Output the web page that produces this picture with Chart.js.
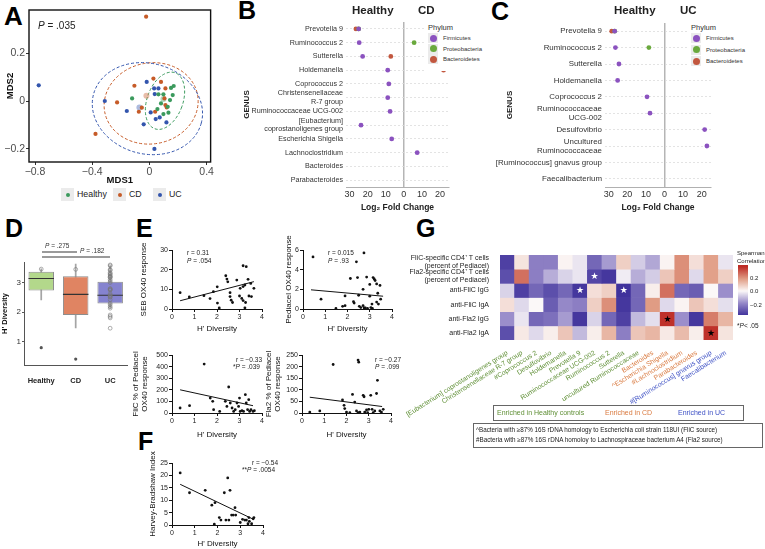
<!DOCTYPE html>
<html>
<head>
<meta charset="utf-8">
<script src="https://cdn.jsdelivr.net/npm/chart.js@4.4.1/dist/chart.umd.min.js"></script>
<style>
  body { margin: 0; background: #fff; font-family: "Liberation Sans", Arial, sans-serif; }
  #wrap { position: relative; width: 765px; height: 549px; overflow: hidden; background: #fff; }
  canvas { position: absolute; }
  .t { position: absolute; white-space: nowrap; line-height: 1; color: #111; }
  .letter { position: absolute; font-weight: bold; font-size: 25px; line-height: 1; color: #000; }
  .key { position: absolute; background: #ebebeb; }
  .dot { position: absolute; border-radius: 50%; }
  .hline { position: absolute; height: 2px; background: #9a9a9a; }
</style>
</head>
<body>
<div id="wrap">
  <div class="letter" style="left:4px;top:3px;font-size:26px">A</div>
  <div class="letter" style="left:238px;top:-2px">B</div>
  <div class="letter" style="left:491px;top:-1px">C</div>
  <div class="letter" style="left:5px;top:216px">D</div>
  <div class="letter" style="left:136px;top:216px">E</div>
  <div class="letter" style="left:138px;top:429px">F</div>
  <div class="letter" style="left:416px;top:216px">G</div>
</div>

<script>
// ---------- data ----------
// A: MDS ordination (x = MDS1, y = MDS2)
const healthyA = [[-0.121, 0.011], [0.063, 0.028], [0.098, 0.028], [0.151, 0.055], [0.170, 0.063], [0.163, 0.025],
  [0.144, 0.004], [0.056, -0.034], [0.098, -0.055], [0.133, -0.049], [0.128, -0.024], [0.081, -0.010]];
const cdA = [[-0.023, 0.354], [-0.377, -0.138], [-0.226, -0.006], [-0.105, 0.064], [-0.074, -0.045], [-0.053, -0.028],
  [0.028, 0.094], [0.081, 0.080], [0.040, -0.045], [0.112, 0.053], [0.105, 0.011], [0.121, -0.027], [0.112, -0.017]];
const ucA = [[-0.774, 0.066], [-0.312, 0.0], [-0.158, -0.042], [-0.019, 0.080], [-0.040, -0.098], [0.009, -0.048],
  [0.033, 0.053], [0.063, 0.053], [0.037, 0.029], [0.044, -0.076], [0.072, -0.069], [0.119, -0.090], [0.035, -0.201]];
const centroidA = [[0.098, 0.008], [-0.021, 0.022], [-0.070, -0.027]];
const ellipseCx = [0.109, 0.012, -0.014];
const ellipseCy = [0.001, -0.010, -0.032];
const ellipseRx = [0.125, 0.33, 0.39];
const ellipseRy = [0.125, 0.17, 0.19];
const ellipseTilt = [20, -10, 15];
const mdsXTicks = [-0.8, -0.4, 0, 0.4];
const mdsXTickLabels = ['\u22120.8', '\u22120.4', '0', '0.4'];
const mdsYTicks = [-0.2, 0, 0.2];
const mdsYTickLabels = ['\u22120.2', '0', '0.2'];

// B: Healthy vs CD log2 fold change  [value, genus index]
const genusB = ['Prevotella 9', 'Ruminococcus 2', 'Sutterella', 'Holdemanella', 'Coprococcus 2',
  ['Christensenellaceae', 'R-7 group'], 'Ruminococcaceae UCG-002', ['[Eubacterium]', 'coprostanoligenes group'],
  'Escherichia Shigella', 'Lachnoclostridium', 'Bacteroides', 'Parabacteroides'];
const firmicutesB = [[-25, 1], [-24.7, 3], [-22.8, 4], [-8.9, 4], [-8.3, 5], [-8.9, 6], [-7.6, 6], [-23.7, 7], [-6.7, 7], [7.4, 9]];
const proteoB = [[-25, 2], [5.7, 8]];
const bacteroB = [[-26.5, 0], [22, 10], [-7.2, 11], [22, 11]];

// C: Healthy vs UC
const genusC = ['Prevotella 9', 'Ruminococcus 2', 'Sutterella', 'Holdemanella', 'Coprococcus 2',
  ['Ruminococcaceae', 'UCG-002'], 'Desulfovibrio', ['Uncultured', 'Ruminococcaceae'],
  '[Ruminococcus] gnavus group', 'Faecalibacterium'];
const firmicutesC = [[-26.8, 1], [-26.4, 3], [-24.5, 4], [-25.2, 5], [-9.4, 5], [-7.8, 7], [21.6, 8], [22.8, 9]];
const proteoC = [[-26.8, 2], [-8.4, 6]];
const bacteroC = [[-28.4, 0]];
const foldTicks = [-30, -20, -10, 0, 10, 20];

// D: H' diversity box plots
const groupsD = ['Healthy', 'CD', 'UC'];
const whiskLo = [2.40, 1.45, 2.12];
const whiskHi = [3.48, 3.64, 3.59];
const boxQ1 = [2.73, 1.90, 2.29];
const boxQ3 = [3.37, 3.22, 3.03];
const boxMed = [3.14, 2.60, 2.57];
const healthyD = [3.46, 3.45, 3.44, 3.30, 3.28, 3.22, 3.17, 3.0, 2.78, 2.75, 2.42];
const cdD = [3.6, 3.34, 3.22, 3.18, 2.8, 2.62, 2.52, 2.18, 1.9, 1.85, 1.8, 1.45];
const ucD = [3.57, 3.42, 3.1, 3.05, 2.75, 2.58, 2.55, 2.5, 2.3, 2.25, 2.13];
const ucOutD = [0.79, 0.40];
const diversityTicks = [1, 2, 3];

// E / F: responses against H' diversity  [H', response]
const hTicks = [0, 1, 2, 3, 4];
const sebPts = [[0.36, 8.3], [0.77, 6.1], [1.42, 6.8], [1.69, 5.3], [1.84, 8.8], [2.01, 11.3], [2.02, 3.0], [2.1, 0.5],
  [2.39, 16.9], [2.44, 15.2], [2.48, 13.8], [2.58, 8.3], [2.58, 6.3], [2.63, 4.5], [2.69, 3.3], [2.88, 14.7],
  [3.03, 10.5], [3.0, 6.6], [3.1, 5.4], [3.16, 4.3], [3.27, 3.3], [3.16, 11.4], [3.24, 12.2], [3.38, 15.1],
  [3.3, 21.5], [3.16, 22], [3.42, 6.6], [3.53, 6.3], [3.64, 10.5], [3.24, 0.6], [3.5, 13]];
const sebFit = [[0.36, 4.2], [3.64, 13.9]];
const sebTicks = [0, 10, 20, 30];
const pedPts = [[0.45, 5.3], [0.81, 1.0], [1.48, 0.05], [1.78, 0.27], [1.89, 0.34], [1.89, 1.33], [2.13, 3.1], [2.27, 0.75],
  [2.3, 0.6], [2.4, 4.8], [2.45, 3.2], [2.5, 1.4], [2.53, 0.27], [2.6, 0.15], [2.7, 2.0], [2.7, 0.34], [2.75, 0.1],
  [2.8, 0.12], [2.86, 3.25], [2.9, 0.05], [3.0, 2.5], [3.0, 1.3], [3.05, 0.15], [3.1, 0.5], [3.12, 0.05], [3.15, 3.2],
  [3.2, 3.05], [3.24, 2.9], [3.31, 0.7], [3.31, 2.55], [3.36, 1.6], [3.39, 0.5], [3.46, 2.4], [3.49, 1.0], [2.74, 5.7]];
const pedFit = [[0.36, 1.95], [3.6, 1.3]];
const pedTicks = [0, 2, 4, 6];
const flicPts = [[0.36, 43], [0.78, 63], [1.43, 422], [1.70, 129], [1.81, 101], [1.85, 29], [2.12, 14], [2.37, 101],
  [2.44, 57], [2.52, 224], [2.59, 86], [2.67, 43], [2.74, 14], [2.81, 29], [2.89, 86], [2.96, 57], [3.0, 129],
  [3.03, 14], [3.11, 20], [3.18, 14], [3.26, 158], [3.30, 86], [3.36, 29], [3.41, 115], [3.45, 14], [3.51, 29],
  [3.60, 14], [3.66, 20]];
const flicFit = [[0.36, 200], [3.6, 63]];
const flicTicks = [0, 100, 200, 300, 400, 500];
const fla2Pts = [[0.35, 4], [0.8, 9], [1.4, 209], [1.82, 56], [1.89, 33], [1.92, 19], [2.0, 4], [2.15, 1], [2.27, 80],
  [2.37, 47], [2.45, 9], [2.52, 1], [2.52, 228], [2.55, 219], [2.75, 76], [2.79, 70], [2.82, 4], [2.9, 13], [3.0, 16],
  [3.09, 76], [3.15, 16], [3.27, 9], [3.35, 84], [3.39, 141], [3.5, 9], [3.57, 4], [3.65, 16], [2.6, 4], [2.95, 1], [3.2, 2]];
const fla2Fit = [[0.35, 68], [3.6, 28]];
const fla2Ticks = [0, 50, 100, 150, 200, 250];
const hbiPts = [[0.36, 21], [0.77, 13], [1.46, 14], [1.75, 8], [1.86, 0.3], [1.89, 9], [2.08, 3], [2.15, 2], [2.3, 13],
  [2.37, 2], [2.45, 19], [2.5, 2], [2.55, 14], [2.62, 4], [2.69, 4], [2.77, 7], [2.8, 4], [3.0, 1], [3.1, 2.3], [3.2, 2],
  [3.27, 2], [3.34, 0.5], [3.38, 3], [3.4, 1.5], [3.5, 0.5], [3.57, 2.5], [3.6, 3]];
const hbiFit = [[0.36, 16.4], [3.6, 2.2]];
const hbiTicks = [0, 5, 10, 15, 20, 25];

// G: Spearman correlation heat map
const rowLabelsG = [['FliC-specific CD4\u207a T cells', '(percent of Pediacel)'], ['Fla2-specific CD4\u207a T cells', '(percent of Pediacel)'],
  'anti-FliC IgG', 'anti-FliC IgA', 'anti-Fla2 IgG', 'anti-Fla2 IgA'];
const colLabelsG = ['[Eubacterium] coprostanoligenes group', 'Christensenellaceae R-7 group', '#Coprococcus 2', 'Desulfovibrio',
  'Holdemanella', 'Prevotella 9', 'Ruminococcaceae UCG-002', 'Ruminococcus 2', 'Sutterella', 'uncultured Ruminococcaceae',
  'Bacteroides', '^Escherichia Shigella', '#Lachnoclostridium', 'Parabacteroides', '#[Ruminococcus] gnavus group', 'Faecalibacterium'];
const colGroupG = [0, 0, 0, 0, 0, 0, 0, 0, 0, 0, 1, 1, 1, 1, 2, 2];
const heatFliCT = [-0.33, 0.04, -0.2, -0.2, 0.01, -0.03, -0.25, -0.15, 0.08, -0.07, -0.13, 0.01, 0.2, 0.05, 0.17, -0.03];
const heatFla2T = [-0.3, 0.25, -0.2, -0.12, -0.06, -0.03, -0.32, -0.35, -0.02, -0.12, -0.07, 0.1, 0.2, -0.05, 0.17, 0.08];
const heatFliCIgG = [-0.06, -0.33, -0.25, -0.3, -0.25, -0.35, 0.05, 0.08, -0.38, -0.25, 0.02, 0.25, -0.25, -0.27, 0.0, -0.17];
const heatFliCIgA = [0.05, -0.05, 0.0, -0.27, -0.18, -0.2, 0.08, 0.2, -0.35, -0.25, 0.18, -0.05, 0.01, 0.1, 0.05, -0.04];
const heatFla2IgG = [-0.17, -0.03, -0.25, -0.23, -0.15, -0.35, -0.06, -0.25, -0.33, -0.1, -0.04, 0.35, -0.17, -0.35, 0.23, 0.13];
const heatFla2IgA = [-0.3, 0.03, -0.05, 0.02, 0.1, -0.1, 0.02, 0.13, -0.2, 0.1, 0.13, 0.03, 0.12, 0.02, 0.35, 0.04];
const starRows = [1, 2, 2, 4, 5];
const starCols = [6, 5, 8, 11, 14];
const corrTicks = [0.2, 0.0, -0.2];

// ---------- styling helpers ----------
Chart.defaults.font.family = '"Liberation Sans", Arial, sans-serif';
Chart.defaults.color = '#222';
Chart.defaults.animation = false;
Chart.defaults.responsive = false;
Chart.defaults.plugins.legend.display = false;
Chart.defaults.plugins.tooltip.enabled = false;

const wrap = document.getElementById('wrap');
function canvasAt(left, top, w, h) {
  const c = document.createElement('canvas');
  c.width = w; c.height = h;
  c.style.cssText = `left:${left}px;top:${top}px;width:${w}px;height:${h}px`;
  wrap.appendChild(c);
  return c;
}
function text(html, left, top, css) {
  const d = document.createElement('div');
  d.className = 't';
  d.innerHTML = html;
  d.style.cssText += `left:${left}px;top:${top}px;` + (css || '');
  wrap.appendChild(d);
  return d;
}
function el(cls, css) {
  const d = document.createElement('div');
  d.className = cls;
  d.style.cssText = css;
  wrap.appendChild(d);
  return d;
}
const fixW = w => s => { s.width = w; };
const fixH = h => s => { s.height = h; };
const setTicks = vals => s => { s.ticks = vals.map(v => ({ value: v })); };
const xy = arr => arr.map(([x, y]) => ({ x, y }));

const groupCol = ['#3b9a5d', '#c65b28', '#3355ad'];
const phylumCol = { firm: '#8b52bf', proteo: '#6aa93d', bactero: '#c2573f' };

// ---------- A ----------
const framePlugin = {
  id: 'frame',
  afterDraw(chart) {
    const a = chart.chartArea, ctx = chart.ctx;
    ctx.save();
    ctx.strokeStyle = '#111';
    ctx.lineWidth = 1.4;
    ctx.strokeRect(a.left, a.top, a.right - a.left, a.bottom - a.top);
    ctx.restore();
  }
};
const ellipsePlugin = {
  id: 'ellipses',
  beforeDatasetsDraw(chart) {
    const { x, y } = chart.scales, ctx = chart.ctx;
    ctx.save();
    ctx.lineWidth = 1;
    ctx.setLineDash([3, 2]);
    ellipseCx.forEach((cx, i) => {
      const px = x.getPixelForValue(cx), py = y.getPixelForValue(ellipseCy[i]);
      const rx = Math.abs(x.getPixelForValue(cx + ellipseRx[i]) - px);
      const ry = Math.abs(y.getPixelForValue(ellipseCy[i] + ellipseRy[i]) - py);
      ctx.strokeStyle = groupCol[i];
      ctx.beginPath();
      ctx.ellipse(px, py, rx, ry, ellipseTilt[i] * Math.PI / 180, 0, Math.PI * 2);
      ctx.stroke();
    });
    ctx.restore();
  }
};

new Chart(canvasAt(0, 0, 215, 186), {
  type: 'scatter',
  data: {
    datasets: [
      { data: xy(healthyA), backgroundColor: groupCol[0], pointRadius: 2.1, borderWidth: 0 },
      { data: xy(cdA), backgroundColor: groupCol[1], pointRadius: 2.1, borderWidth: 0 },
      { data: xy(ucA), backgroundColor: groupCol[2], pointRadius: 2.1, borderWidth: 0 },
      { data: xy(centroidA), backgroundColor: groupCol.map(c => c + '66'), pointRadius: 3, borderWidth: 0 }
    ]
  },
  options: {
    layout: { padding: { top: 10, right: 4 } },
    scales: {
      x: {
        min: -0.842, max: 0.428, afterBuildTicks: setTicks(mdsXTicks),
        ticks: { callback: (v, i) => mdsXTickLabels[i], font: { size: 10.5 }, color: '#4d4d4d', padding: 1, maxRotation: 0 },
        grid: { drawOnChartArea: false, tickLength: 3, color: '#333' }, border: { display: false },
        title: { display: true, text: 'MDS1', font: { size: 9.5, weight: 'bold' }, color: '#111', padding: 0 },
        afterFit: fixH(24)
      },
      y: {
        min: -0.256, max: 0.382, afterBuildTicks: setTicks(mdsYTicks),
        ticks: { callback: (v, i) => mdsYTickLabels[i], font: { size: 10.5 }, color: '#4d4d4d', padding: 1 },
        grid: { drawOnChartArea: false, tickLength: 3, color: '#333' }, border: { display: false },
        title: { display: true, text: 'MDS2', font: { size: 9.5, weight: 'bold' }, color: '#111', padding: { top: 5, bottom: 0 } },
        afterFit: fixW(29)
      }
    }
  },
  plugins: [ellipsePlugin, framePlugin]
});
text('<i>P</i> = .035', 38, 21, 'font-size:10px;color:#222');
[['Healthy', 61], ['CD', 113], ['UC', 153]].forEach(([name, x], i) => {
  el('key', `left:${x}px;top:188px;width:13px;height:13px`);
  el('dot', `left:${x + 4.5}px;top:192.5px;width:4px;height:4px;background:${groupCol[i]}`);
  text(name, x + 16, 190, 'font-size:8.8px;color:#222');
});

// ---------- B and C ----------
function foldChart(cv, genus, firm, proteo, bactero, yW, padTop, labelSize, titlePad) {
  return new Chart(cv, {
    type: 'scatter',
    data: {
      datasets: [
        { data: xy(firm), backgroundColor: phylumCol.firm, pointRadius: 2.4, borderWidth: 0 },
        { data: xy(proteo), backgroundColor: phylumCol.proteo, pointRadius: 2.4, borderWidth: 0 },
        { data: xy(bactero), backgroundColor: phylumCol.bactero, pointRadius: 2.4, borderWidth: 0 }
      ]
    },
    options: {
      layout: { padding: { top: padTop, right: 4 } },
      scales: {
        x: {
          min: -32, max: 25, afterBuildTicks: setTicks(foldTicks),
          ticks: { callback: v => Math.abs(v), font: { size: 9 }, color: '#333', padding: 2, maxRotation: 0 },
          grid: { color: c => (c.tick && c.tick.value === 0 ? '#b5b5b5' : 'rgba(0,0,0,0)'), lineWidth: 1.5, drawTicks: false },
          border: { color: '#b0b0b0', width: 1 },
          title: { display: true, text: 'Log\u2082 Fold Change', font: { size: 8.5, weight: 'bold' }, color: '#222', padding: { top: 0, bottom: 3 } },
          afterFit: fixH(29)
        },
        y: {
          type: 'category', labels: genus, offset: true,
          ticks: { autoSkip: false, font: { size: labelSize, lineHeight: 1.15 }, color: '#333', padding: 3 },
          grid: { offset: false, color: '#dcdcdc', lineWidth: 0.8, drawTicks: false },
          border: { display: false, dash: [2, 2] },
          title: { display: true, text: 'GENUS', font: { size: 8, weight: 'bold' }, color: '#222', padding: { top: titlePad, bottom: 0 } },
          afterFit: fixW(yW)
        }
      }
    }
  });
}
foldChart(canvasAt(240, 0, 213, 216), genusB, firmicutesB, proteoB, bacteroB, 106, 22, 7.2, 2);
foldChart(canvasAt(490, 0, 225, 216), genusC, firmicutesC, proteoC, bacteroC, 115, 23, 7.9, 15);

function phylumLegend(x, y, gap) {
  el('dot', `left:${x - 2}px;top:${y - 3}px;width:58px;height:${gap * 3 + 18}px;background:#fff;border-radius:0`);
  text('Phylum', x, y, 'font-size:7.5px;color:#333');
  [['Firmicutes', phylumCol.firm], ['Proteobacteria', phylumCol.proteo], ['Bacteroidetes', phylumCol.bactero]].forEach(([n, c], i) => {
    const yy = y + 9 + i * gap;
    el('key', `left:${x}px;top:${yy}px;width:10px;height:10px`);
    el('dot', `left:${x + 1.5}px;top:${yy + 1.5}px;width:7px;height:7px;background:${c}`);
    text(n, x + 15, yy + 2, 'font-size:6px;color:#333');
  });
}
phylumLegend(428, 24, 10.7);
phylumLegend(691, 24, 11.5);
text('Healthy', 352, 5, 'font-size:11.5px;font-weight:bold;color:#222');
text('CD', 418, 5, 'font-size:11.5px;font-weight:bold;color:#222');
text('Healthy', 614, 5, 'font-size:11.5px;font-weight:bold;color:#222');
text('UC', 680, 5, 'font-size:11.5px;font-weight:bold;color:#222');

// ---------- D ----------
const boxFill = ['#b3d88b', '#e08462', '#8583cf'];
const ptsD = [healthyD, cdD, ucD].flatMap((arr, g) => arr.map(v => ({ x: g, y: v })));
new Chart(canvasAt(0, 255, 132, 130), {
  type: 'bar',
  data: {
    labels: groupsD,
    datasets: [
      { type: 'scatter', data: ptsD, pointRadius: 1.9, backgroundColor: 'rgba(0,0,0,0)', borderColor: '#777', borderWidth: 0.6 },
      { type: 'scatter', data: ucOutD.map(v => ({ x: 2, y: v })), pointRadius: 1.6, backgroundColor: '#555', borderWidth: 0 },
      { data: boxMed.map(m => [m - 0.018, m + 0.018]), backgroundColor: '#333', barPercentage: 0.74, categoryPercentage: 1, grouped: false },
      { data: boxQ1.map((q, i) => [q, boxQ3[i]]), backgroundColor: boxFill, borderColor: '#8d8d8d', borderWidth: 1, borderSkipped: false,
        barPercentage: 0.74, categoryPercentage: 1, grouped: false },
      { data: whiskLo.map((w, i) => [w, whiskHi[i]]), backgroundColor: '#a5a5a5', barPercentage: 0.05, categoryPercentage: 1, grouped: false }
    ]
  },
  options: {
    layout: { padding: { top: 7, right: 2 } },
    scales: {
      x: {
        ticks: { font: { size: 7.5, weight: 'bold' }, color: '#222', padding: 3, maxRotation: 0, minRotation: 0, autoSkip: false },
        grid: { display: false }, border: { color: '#555', width: 1 },
        afterFit: fixH(20)
      },
      y: {
        min: 0.2, max: 3.7, afterBuildTicks: setTicks(diversityTicks),
        ticks: { font: { size: 8 }, color: '#333', padding: 1 },
        grid: { drawOnChartArea: false, tickLength: 2, color: '#555' }, border: { color: '#555', width: 1 },
        title: { display: true, text: "H' Diversity", font: { size: 7.5, weight: 'bold' }, color: '#111', padding: 0 },
        afterFit: fixW(24)
      }
    }
  }
});
text('<i>P</i> = .275', 45, 243, 'font-size:6.5px;color:#333');
el('hline', 'left:42px;top:251px;width:35px');
text('<i>P</i> = .182', 80, 248, 'font-size:6.5px;color:#333');
el('hline', 'left:42px;top:256px;width:68px');

// ---------- E and F ----------
function prismScatter(cv, pts, fit, yMax, yTicks, yTitle, yW, xH, padTop, titlePad) {
  return new Chart(cv, {
    type: 'scatter',
    data: {
      datasets: [
        { data: xy(pts), backgroundColor: '#111', pointRadius: 1.4, borderWidth: 0 },
        { type: 'line', data: xy(fit), borderColor: '#111', borderWidth: 1, pointRadius: 0, fill: false }
      ]
    },
    options: {
      layout: { padding: { top: padTop, right: 4 } },
      scales: {
        x: {
          type: 'linear', min: 0, max: 4, afterBuildTicks: setTicks(hTicks),
          ticks: { font: { size: 7 }, color: '#222', padding: 1, maxRotation: 0 },
          grid: { drawOnChartArea: false, tickLength: 3, color: '#111' }, border: { color: '#111', width: 1 },
          title: { display: true, text: "H' Diversity", font: { size: 8 }, color: '#111', padding: { top: 2, bottom: 0 } },
          afterFit: fixH(xH)
        },
        y: {
          min: 0, max: yMax, afterBuildTicks: setTicks(yTicks),
          ticks: { font: { size: 7 }, color: '#222', padding: 1 },
          grid: { drawOnChartArea: false, tickLength: 3, color: '#111' }, border: { color: '#111', width: 1 },
          title: { display: true, text: yTitle, font: { size: 8, lineHeight: 1.15 }, color: '#111', padding: { top: titlePad, bottom: 0 } },
          afterFit: fixW(yW)
        }
      }
    }
  });
}
prismScatter(canvasAt(128, 225, 138, 109), sebPts, sebFit, 30, sebTicks, 'SEB OX40 response', 44, 25, 25, 11);
prismScatter(canvasAt(258, 225, 138, 109), pedPts, pedFit, 6, pedTicks, 'Pediacel OX40 response', 45, 25, 25, 26);
prismScatter(canvasAt(128, 330, 138, 110), flicPts, flicFit, 500, flicTicks, ['FliC % of Pediacel', 'OX40 response'], 44, 27, 25, 3);
prismScatter(canvasAt(258, 330, 137, 110), fla2Pts, fla2Fit, 250, fla2Ticks, ['Fla2 % of Pediacel', 'OX40 response'], 44, 27, 25, 6);
prismScatter(canvasAt(128, 440, 139, 109), hbiPts, hbiFit, 25, hbiTicks, 'Harvey-Bradshaw Index', 44, 24, 23, 20);

const statCss = 'font-size:6.5px;color:#222';
text('r = 0.31', 187, 250, statCss);
text('<i>P</i> = .054', 187, 258, statCss);
text('r = 0.015', 328, 250, statCss);
text('<i>P</i> = .93', 328, 258, statCss);
text('r = \u22120.33', 236, 357, statCss);
text('*<i>P</i> = .039', 233, 364, statCss);
text('r = \u22120.27', 375, 357, statCss);
text('<i>P</i> = .099', 375, 364, statCss);
text('r = \u22120.54', 252, 460, statCss);
text('**<i>P</i> = .0054', 242, 467, statCss);

// ---------- G ----------
const corrStops = [[-0.36, '#40329c'], [-0.18, '#9588c8'], [0, '#fbf8f8'], [0.18, '#e09c84'], [0.36, '#bd2b25']];
function hexRgb(h) { return [1, 3, 5].map(i => parseInt(h.slice(i, i + 2), 16)); }
function corrColor(v) {
  const s = corrStops;
  if (v <= s[0][0]) return s[0][1];
  for (let i = 1; i < s.length; i++) {
    if (v <= s[i][0]) {
      const t = (v - s[i - 1][0]) / (s[i][0] - s[i - 1][0]);
      const a = hexRgb(s[i - 1][1]), b = hexRgb(s[i][1]);
      return 'rgb(' + a.map((c, k) => Math.round(c + (b[k] - c) * t)).join(',') + ')';
    }
  }
  return s[s.length - 1][1];
}
const heatRows = [heatFliCT, heatFla2T, heatFliCIgG, heatFliCIgA, heatFla2IgG, heatFla2IgA];
const labelCol = ['#5f8f35', '#d9793e', '#3c4fc4'];
const starPlugin = {
  id: 'stars',
  afterDatasetsDraw(chart) {
    const { x, y } = chart.scales, ctx = chart.ctx;
    ctx.save();
    ctx.font = '9px "DejaVu Sans"';
    ctx.textAlign = 'center';
    ctx.textBaseline = 'middle';
    starRows.forEach((r, i) => {
      const c = starCols[i];
      ctx.fillStyle = heatRows[r][c] > 0 ? '#000' : '#fff';
      ctx.fillText('\u2605', x.getPixelForValue(c), y.getPixelForValue(r + 0.5) + 0.5);
    });
    ctx.restore();
  }
};
new Chart(canvasAt(385, 248, 353, 175), {
  type: 'bar',
  data: {
    labels: colLabelsG,
    datasets: heatRows.map((row, r) => ({
      data: row.map(() => [r, r + 1]),
      backgroundColor: row.map(corrColor),
      barPercentage: 1, categoryPercentage: 1, grouped: false, borderWidth: 0
    }))
  },
  options: {
    layout: { padding: { top: 4, right: 5 } },
    scales: {
      x: {
        ticks: { font: { size: 6.8 }, color: c => labelCol[colGroupG[c.index]], minRotation: 32, maxRotation: 32, autoSkip: false, padding: 1 },
        grid: { display: false }, border: { display: false },
        afterFit: fixH(83)
      },
      y: {
        min: 0, max: 6, reverse: true,
        afterBuildTicks: setTicks([0.5, 1.5, 2.5, 3.5, 4.5, 5.5]),
        ticks: { autoSkip: false, callback: (v, i) => rowLabelsG[i], font: { size: 7, lineHeight: 1.15 }, color: '#222', padding: 3 },
        grid: { display: false }, border: { display: false },
        afterFit: fixW(115)
      }
    }
  },
  plugins: [starPlugin]
});

// colour bar legend
const barTop = 0.385, barBot = -0.355;
const grad = corrStops.slice().reverse().map(([v, c]) => `${c} ${((barTop - v) / (barTop - barBot) * 100).toFixed(1)}%`).join(',');
el('key', `left:738px;top:265px;width:10px;height:50px;background:linear-gradient(to bottom, ${corrColor(barTop)} 0%, ${grad}, ${corrColor(barBot)} 100%)`);
corrTicks.forEach(v => {
  const yy = 265 + (barTop - v) / (barTop - barBot) * 50;
  text(v < 0 ? '\u22120.2' : v.toFixed(1), 750, yy - 3, 'font-size:6px;color:#222');
});
text('Spearman<br>Correlation', 737, 250, 'font-size:6px;color:#222;line-height:1.25');
text('*<i>P</i>&lt; .05', 737, 323, 'font-size:6.5px;color:#222');

el('t', 'left:493px;top:405px;width:249px;height:14px;border:1px solid #666;background:#fff');
text('Enriched in Healthy controls', 497, 409, 'font-size:7px;color:' + labelCol[0]);
text('Enriched in CD', 605, 409, 'font-size:7px;color:' + labelCol[1]);
text('Enriched in UC', 678, 409, 'font-size:7px;color:' + labelCol[2]);

el('t', 'left:473px;top:423px;width:288px;height:23px;border:1px solid #666;background:#fff');
text('^Bacteria with \u226587% 16S rDNA homology to Escherichia coli strain 118UI (FliC source)', 476, 427, 'font-size:6.3px;color:#222');
text('#Bacteria with \u226587% 16S rDNA homoloy to Lachnospiraceae bacterium A4 (Fla2 source)', 476, 437, 'font-size:6.3px;color:#222');
</script>
</body>
</html>
